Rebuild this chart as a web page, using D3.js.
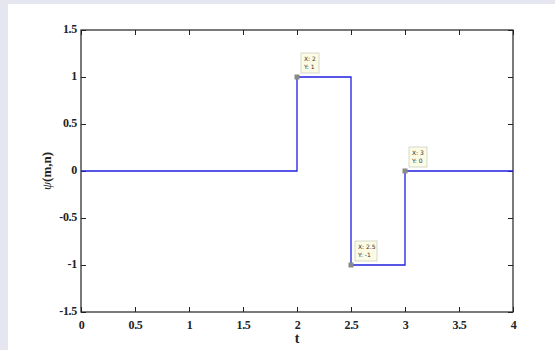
<!DOCTYPE html>
<html><head><meta charset="utf-8">
<script src="https://cdn.jsdelivr.net/npm/d3@7"></script>
<style>
html,body{margin:0;padding:0;background:#e6e6f0;}
svg{display:block;}
</style></head>
<body>
<svg id="c" width="555" height="350"></svg>
<script>
const tValues = [0, 2, 2, 2.5, 2.5, 3, 3, 4];
const psiValues = [0, 0, 1, 1, -1, -1, 0, 0];
const xTicks = [0, 0.5, 1, 1.5, 2, 2.5, 3, 3.5, 4];
const yTicks = [-1.5, -1, -0.5, 0, 0.5, 1, 1.5];
const tipX = [2, 2.5, 3];
const tipY = [1, -1, 0];
const tipLabelX = ["2", "2.5", "3"];
const tipLabelY = ["1", "-1", "0"];

const svg = d3.select("#c");
svg.append("rect").attr("x",0).attr("y",0).attr("width",555).attr("height",350).attr("fill","#e6e6f0");
svg.append("rect").attr("x",8).attr("y",4).attr("width",547).attr("height",346).attr("fill","#ffffff");

const L=81, R=513, T=30, B=312;
const x = d3.scaleLinear().domain([0,4]).range([L,R]);
const y = d3.scaleLinear().domain([-1.5,1.5]).range([B,T]);

const font = "'Liberation Serif','Times New Roman',serif";
const axisCol = "#222";
const fmt = d => String(d);

function styleAxis(g){
  g.attr("font-family",null).attr("font-size",null);
  g.select(".domain").remove();
  g.selectAll(".tick line").attr("stroke",axisCol).attr("stroke-width",1);
  g.selectAll(".tick text").attr("font-family",font).attr("font-weight","bold")
   .attr("font-size","12px").attr("fill","#222").style("letter-spacing","-0.3px");
}
const gx = svg.append("g").attr("transform",`translate(0,${B})`)
  .call(d3.axisBottom(x).tickValues(xTicks).tickSize(-5).tickPadding(8).tickFormat(fmt));
styleAxis(gx);
const gxt = svg.append("g").attr("transform",`translate(0,${T})`)
  .call(d3.axisTop(x).tickValues(xTicks).tickSize(-5).tickFormat(""));
styleAxis(gxt);
const gy = svg.append("g").attr("transform",`translate(${L},0)`)
  .call(d3.axisLeft(y).tickValues(yTicks).tickSize(-5).tickPadding(4).tickFormat(fmt));
styleAxis(gy);
gy.selectAll(".tick text").attr("dy","0.2em");
const gyr = svg.append("g").attr("transform",`translate(${R},0)`)
  .call(d3.axisRight(y).tickValues(yTicks).tickSize(-5).tickFormat(""));
styleAxis(gyr);

svg.append("rect").attr("x",L).attr("y",T).attr("width",R-L).attr("height",B-T)
  .attr("fill","none").attr("stroke",axisCol).attr("stroke-width",1.2);

const line = d3.line().x((d,i)=>x(tValues[i])).y((d,i)=>y(psiValues[i]));
svg.append("path").datum(tValues).attr("d",line).attr("fill","none")
  .attr("stroke","#2020e0").attr("stroke-width",1.3);

tipX.forEach((tx,i)=>{
  const px = x(tx), py = y(tipY[i]);
  const w = tipLabelX[i].length>1 ? 22 : 18;
  const g = svg.append("g");
  g.append("rect").attr("x",px+4).attr("y",py-24).attr("width",w).attr("height",20)
    .attr("fill","#fbfbe6").attr("stroke","#cfcfc0").attr("stroke-width",0.8);
  g.append("text").attr("x",px+7).attr("y",py-16.5).attr("font-family","'DejaVu Sans',sans-serif")
    .attr("font-size","6px").attr("fill","#333").text("X: "+tipLabelX[i]);
  g.append("text").attr("x",px+7).attr("y",py-8.5).attr("font-family","'DejaVu Sans',sans-serif")
    .attr("font-size","6px").attr("fill","#333").text("Y: "+tipLabelY[i]);
  g.append("rect").attr("x",px-2.5).attr("y",py-2.5).attr("width",5).attr("height",5).attr("fill","#8a8a8a");
});

svg.append("text").attr("x",(L+R)/2).attr("y",343).attr("text-anchor","middle")
  .attr("font-family",font).attr("font-weight","bold").attr("font-size","14px").attr("fill","#222").text("t");
const yl = svg.append("text").attr("transform",`translate(51,${(T+B)/2}) rotate(-90)`).attr("text-anchor","middle")
  .attr("font-family",font).attr("font-size","13px").attr("fill","#222");
yl.append("tspan").attr("font-style","italic").text("ψ");
yl.append("tspan").attr("font-weight","bold").text("(m,n)");
</script>
</body></html>
